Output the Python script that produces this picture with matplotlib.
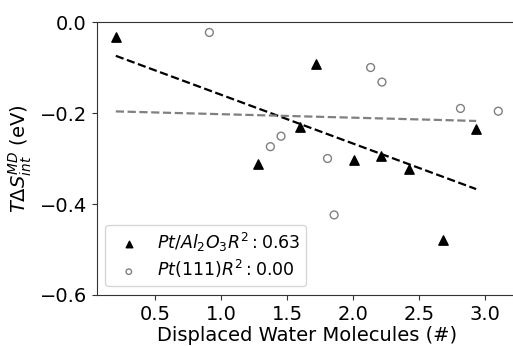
import numpy as np
import matplotlib.pyplot as plt

# displaced water molecules vs T*dS (eV)
x_al = [0.20, 1.72, 2.935, 1.60, 1.28, 2.01, 2.21, 2.425, 2.68]
y_al = [-0.034, -0.093, -0.236, -0.230, -0.312, -0.303, -0.294, -0.322, -0.479]

x_pt = [0.91, 2.134, 2.22, 2.816, 3.103, 1.454, 1.373, 1.807, 1.857]
y_pt = [-0.023, -0.100, -0.132, -0.190, -0.196, -0.251, -0.274, -0.300, -0.424]

x_al = np.array(x_al)
y_al = np.array(y_al)
x_pt = np.array(x_pt)
y_pt = np.array(y_pt)


def fit(x, y):
    m, b = np.polyfit(x, y, 1)
    pred = m * x + b
    r2 = 1 - np.sum((y - pred) ** 2) / np.sum((y - y.mean()) ** 2)
    return m, b, r2


m_al, b_al, r2_al = fit(x_al, y_al)
m_pt, b_pt, r2_pt = fit(x_pt, y_pt)

# both fits drawn over the Pt/Al2O3 x-range
xx = np.array([x_al.min(), x_al.max()])

fig = plt.figure(figsize=(5.13, 3.46), dpi=100)
ax = fig.add_axes([96.7 / 513, 0.1474, (517.4 - 96.7) / 513, 0.789])

ax.scatter(x_al, y_al, marker="^", s=45, color="black",
           label=f"$Pt/Al_2O_3 R^2: {0.63:.2f}$")
ax.scatter(x_pt, y_pt, marker="o", s=32, facecolors="none", edgecolors="gray",
           label=f"$Pt(111) R^2: {0.00:.2f}$")
ax.plot(xx, m_al * xx + b_al, "--", color="black", lw=1.6)
ax.plot(xx, m_pt * xx + b_pt, "--", color="gray", lw=1.6)

ax.set_ylim(-0.6, 0.0)
ax.set_yticks([0.0, -0.2, -0.4, -0.6])
ax.set_xticks([0.5, 1.0, 1.5, 2.0, 2.5, 3.0])
ax.spines["right"].set_visible(False)
for s in ax.spines.values():
    s.set_color("#333333")
ax.tick_params(labelsize=14, color="#333333")
ax.set_xlabel("Displaced Water Molecules (#)", fontsize=14, labelpad=2)
ax.set_ylabel(r"$T\Delta S^{MD}_{int}$ (eV)", fontsize=14)
ax.legend(loc="lower left", fontsize=12.5, markerscale=0.7, labelspacing=0.25,
          borderpad=0.35, handletextpad=0.6)

fig.savefig("out.png", dpi=100)
